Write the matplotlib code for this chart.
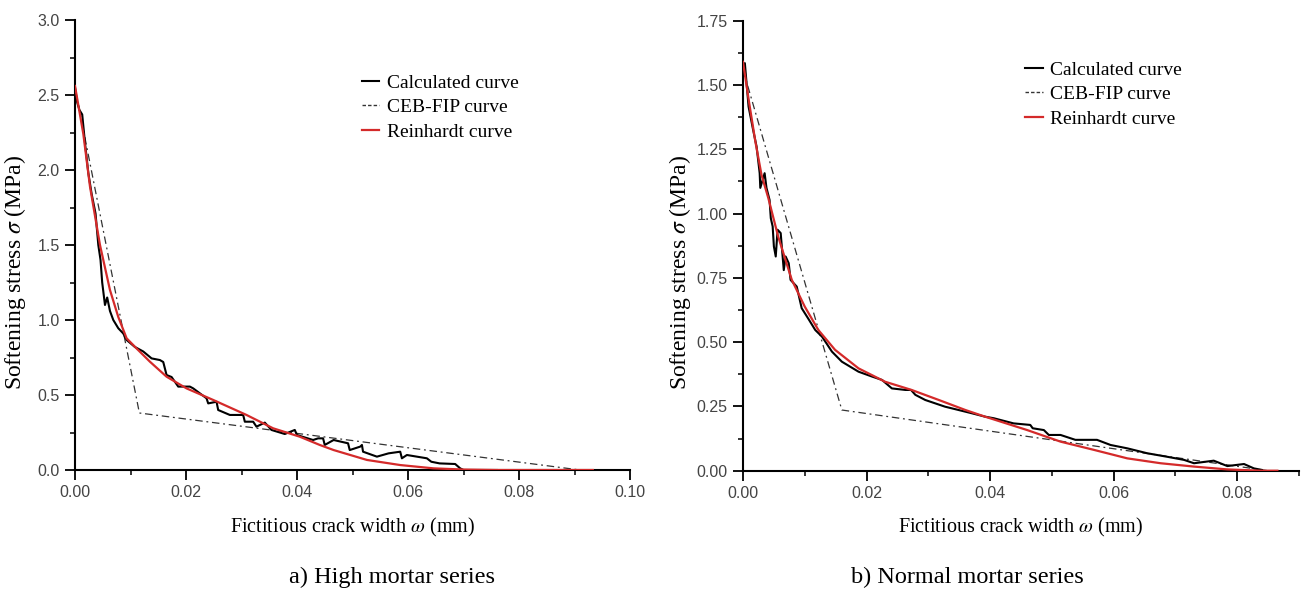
import numpy as np
import matplotlib
matplotlib.use("Agg")
import matplotlib.pyplot as plt
from matplotlib.lines import Line2D

# a) high mortar series
calc_a_x = [0.0, 0.0004, 0.0008, 0.0013, 0.0018, 0.0024, 0.0030, 0.0037, 0.0042, 0.0046,
            0.0049, 0.0054, 0.0058, 0.0063, 0.0069, 0.0078, 0.0087, 0.0093, 0.0108, 0.0123,
            0.0138, 0.0153, 0.0159, 0.0165, 0.0174, 0.0186, 0.0207, 0.0213, 0.0237, 0.0240,
            0.0255, 0.0258, 0.0279, 0.0303, 0.0306, 0.0321, 0.0327, 0.0342, 0.0354, 0.0378,
            0.0396, 0.0400, 0.0429, 0.0438, 0.0447, 0.0450, 0.0466, 0.0492, 0.0495, 0.0514,
            0.0517, 0.0519, 0.0544, 0.0565, 0.0586, 0.0589, 0.0598, 0.0634, 0.0642, 0.0657,
            0.0685, 0.0694, 0.0700, 0.0760]
calc_a_y = [2.55, 2.45, 2.40, 2.37, 2.18, 1.98, 1.84, 1.71, 1.50, 1.40,
            1.25, 1.10, 1.15, 1.06, 1.00, 0.945, 0.91, 0.867, 0.82, 0.79,
            0.744, 0.733, 0.72, 0.633, 0.62, 0.556, 0.556, 0.544, 0.478, 0.444,
            0.455, 0.40, 0.367, 0.367, 0.322, 0.322, 0.289, 0.316, 0.267, 0.24,
            0.267, 0.233, 0.20, 0.211, 0.211, 0.167, 0.20, 0.178, 0.133, 0.156,
            0.167, 0.122, 0.089, 0.111, 0.122, 0.078, 0.10, 0.078, 0.055, 0.044,
            0.04, 0.011, 0.0, 0.0]
ceb_a_x = [0.0, 0.0116, 0.091]
ceb_a_y = [2.55, 0.38, 0.0]
rein_a_x = [0.0, 0.0015, 0.0027, 0.0045, 0.0063, 0.0078, 0.0093, 0.0111, 0.0135, 0.0165,
            0.0201, 0.0249, 0.0309, 0.0357, 0.0405, 0.0441, 0.0466, 0.0526, 0.0586, 0.0646,
            0.0700, 0.0760, 0.0850, 0.0933]
rein_a_y = [2.56, 2.24, 1.89, 1.50, 1.20, 1.02, 0.878, 0.81, 0.722, 0.622,
            0.544, 0.467, 0.367, 0.278, 0.222, 0.167, 0.133, 0.067, 0.033, 0.011,
            0.003, 0.0, 0.0, 0.0]

# b) normal mortar series
calc_b_x = [0.0, 0.0003, 0.0009, 0.0016, 0.0022, 0.0027, 0.0028, 0.0035, 0.0038, 0.0043,
            0.0045, 0.0048, 0.0050, 0.0053, 0.0056, 0.0061, 0.0066, 0.0069, 0.0074, 0.0077,
            0.0087, 0.0095, 0.0106, 0.0117, 0.0128, 0.0144, 0.0160, 0.0187, 0.0209, 0.0225,
            0.0241, 0.0263, 0.0272, 0.0279, 0.0295, 0.0327, 0.0349, 0.0371, 0.0392, 0.0406,
            0.0438, 0.0465, 0.0469, 0.0487, 0.0495, 0.0514, 0.0538, 0.0573, 0.0595, 0.0622,
            0.0654, 0.0687, 0.0714, 0.0730, 0.0762, 0.0784, 0.0811, 0.0827, 0.0840]
calc_b_y = [1.57, 1.585, 1.416, 1.33, 1.26, 1.157, 1.10, 1.157, 1.10, 1.053,
            0.982, 0.95, 0.872, 0.833, 0.937, 0.924, 0.78, 0.833, 0.807, 0.742,
            0.716, 0.632, 0.59, 0.547, 0.521, 0.463, 0.424, 0.385, 0.366, 0.353,
            0.32, 0.314, 0.314, 0.295, 0.275, 0.249, 0.236, 0.223, 0.21, 0.204,
            0.184, 0.178, 0.165, 0.158, 0.139, 0.139, 0.12, 0.12, 0.10, 0.087,
            0.068, 0.054, 0.042, 0.029, 0.039, 0.018, 0.026, 0.009, 0.003]
ceb_b_x = [0.0, 0.016, 0.085]
ceb_b_y = [1.56, 0.236, 0.0]
rein_b_x = [0.0, 0.0010, 0.0020, 0.0030, 0.0041, 0.0057, 0.0079, 0.0100, 0.0122, 0.0149,
            0.0187, 0.0230, 0.0273, 0.0317, 0.0360, 0.0392, 0.0460, 0.0514, 0.0568, 0.0622,
            0.0676, 0.0730, 0.0784, 0.0838, 0.0865]
rein_b_y = [1.59, 1.43, 1.28, 1.15, 1.06, 0.91, 0.742, 0.638, 0.547, 0.47,
            0.398, 0.346, 0.314, 0.275, 0.236, 0.21, 0.158, 0.113, 0.081, 0.048,
            0.029, 0.016, 0.005, 0.0, 0.0]

labels = ["Calculated curve", "CEB-FIP curve", "Reinhardt curve"]
captions = ["a) High mortar series", "b) Normal mortar series"]

plt.rcParams["mathtext.fontset"] = "stix"
serif = "Liberation Serif"
W, H = 1307, 591
fig = plt.figure(figsize=(W / 100, H / 100), dpi=100)

RED = "#d42a2a"


def make_axes(left, right, top, bottom):
    return fig.add_axes([left / W, 1 - bottom / H, (right - left) / W, (bottom - top) / H])


def draw(ax, cx, cy, ex, ey, rx, ry, xmax, ymax, xstep, ystep, yfmt, leg_xy, ylab_x):
    ax.plot(cx, cy, color="black", lw=1.5, zorder=3)
    ax.plot(ex, ey, color="#333333", lw=0.9, ls=(0, (6, 3, 1.5, 3)), zorder=2)
    ax.plot(rx, ry, color=RED, lw=1.6, zorder=4)
    ax.set_xlim(0, xmax)
    ax.set_ylim(0, ymax)
    ax.set_xticks(np.arange(0, xmax + 1e-9, xstep))
    ax.set_xticks(np.arange(0, xmax + 1e-9, xstep / 2), minor=True)
    ax.set_yticks(np.arange(0, ymax + 1e-9, ystep))
    ax.set_yticks(np.arange(0, ymax + 1e-9, ystep / 2), minor=True)
    ax.xaxis.set_major_formatter(matplotlib.ticker.FormatStrFormatter("%.2f"))
    ax.yaxis.set_major_formatter(matplotlib.ticker.FormatStrFormatter(yfmt))
    for s in ["top", "right"]:
        ax.spines[s].set_visible(False)
    for s in ["left", "bottom"]:
        ax.spines[s].set_linewidth(1.5)
    ax.tick_params(which="major", direction="out", length=7, width=1.3,
                   labelsize=11.5, labelcolor="#444444", pad=4)
    ax.tick_params(which="minor", direction="out", length=3.5, width=1.1)
    for t in ax.get_xticklabels() + ax.get_yticklabels():
        t.set_fontfamily("Liberation Sans")
    ax.set_xlabel(r"Fictitious crack width $\omega$ (mm)", fontfamily=serif, fontsize=14.5, labelpad=11)
    ax.set_ylabel(r"Softening stress $\sigma$ (MPa)", fontfamily=serif, fontsize=17)
    ax.yaxis.set_label_coords(ylab_x, 0.44)
    handles = [Line2D([], [], color="black", lw=1.5),
               Line2D([], [], color="#333333", lw=1.0, ls=(0, (2.5, 1.5))),
               Line2D([], [], color=RED, lw=1.6)]
    ax.legend(handles, labels, loc="upper left", bbox_to_anchor=leg_xy,
              bbox_transform=fig.transFigure, frameon=False,
              prop={"family": serif, "size": 14}, handlelength=0.9,
              handletextpad=0.4, labelspacing=0.36, borderpad=0, borderaxespad=0)


ax1 = make_axes(75, 630, 20, 470)
draw(ax1, calc_a_x, calc_a_y, ceb_a_x, ceb_a_y, rein_a_x, rein_a_y,
     0.10, 3.0, 0.02, 0.5, "%.1f", (362 / W, 1 - 74 / H), (28 - 75) / 555)

ax2 = make_axes(743, 1299, 20.7, 470.7)
draw(ax2, calc_b_x, calc_b_y, ceb_b_x, ceb_b_y, rein_b_x, rein_b_y,
     0.09, 1.75, 0.02, 0.25, "%.2f", (1025 / W, 1 - 61 / H), (693 - 743) / 556)
ax2.set_xticks(np.arange(0, 0.0801, 0.02))
ax2.set_xticks(np.arange(0, 0.0901, 0.01), minor=True)

fig.text(392 / W, 1 - 577 / H, captions[0], ha="center", va="center", fontfamily=serif, fontsize=17.5)
fig.text(967 / W, 1 - 577 / H, captions[1], ha="center", va="center", fontfamily=serif, fontsize=17.5)

fig.savefig("out.png", dpi=100)
